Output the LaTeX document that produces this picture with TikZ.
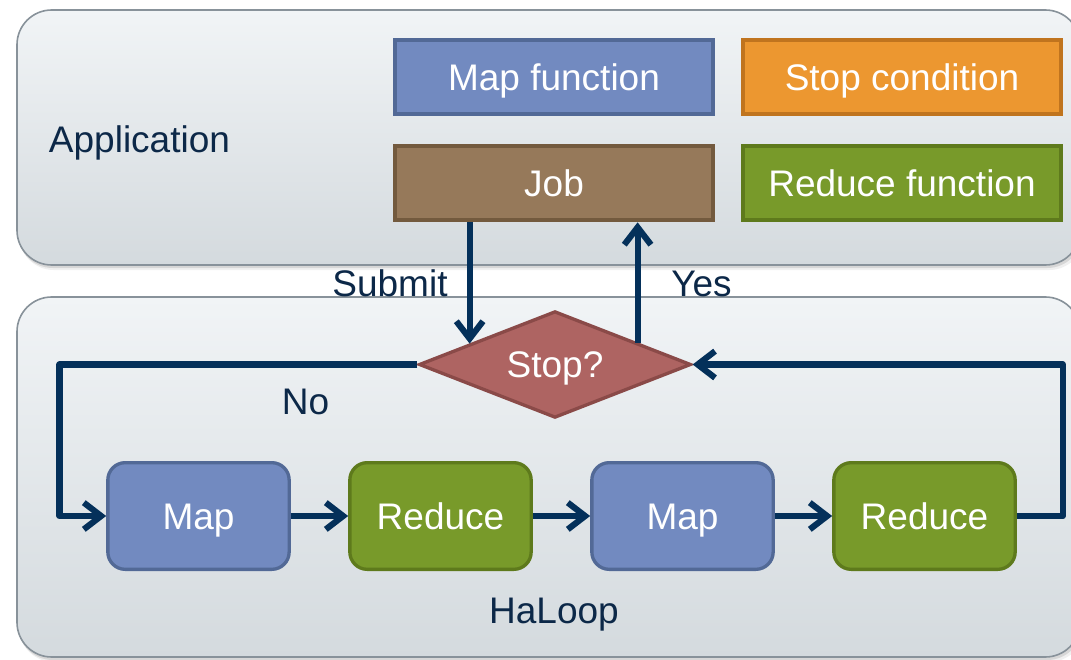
\documentclass[tikz,border=0pt]{standalone}
\usepackage{fontspec}
\setmainfont{Liberation Sans}
\usetikzlibrary{arrows.meta,shapes.geometric,calc}

\definecolor{inkNavy}{RGB}{12,40,72}
\definecolor{lineNavy}{RGB}{4,48,90}
\definecolor{panelTop}{RGB}{241,244,246}
\definecolor{panelBot}{RGB}{212,218,222}
\definecolor{panelEdge}{RGB}{136,146,154}
\definecolor{mapFill}{RGB}{114,138,192}
\definecolor{mapEdge}{RGB}{82,105,150}
\definecolor{reduceFill}{RGB}{120,154,42}
\definecolor{reduceEdge}{RGB}{94,122,28}
\definecolor{stopFill}{RGB}{236,151,48}
\definecolor{stopEdge}{RGB}{192,116,30}
\definecolor{jobFill}{RGB}{150,121,90}
\definecolor{jobEdge}{RGB}{115,90,62}
\definecolor{testFill}{RGB}{174,100,98}
\definecolor{testEdge}{RGB}{138,74,72}

\newcommand{\boxfont}{\fontsize{27.75}{33}\selectfont}

\tikzset{
  every node/.style={font=\boxfont, text height=20pt, text depth=0pt, inner sep=0pt},
  panel/.style={rounded corners=26pt, draw=panelEdge, line width=1.2pt,
    top color=panelTop, bottom color=panelBot},
  fnbox/.style={draw=#1Edge, fill=#1Fill, line width=3pt, text=white,
    minimum width=239pt, minimum height=56pt},
  stagebox/.style={draw=#1Edge, fill=#1Fill, line width=2.5pt, text=white,
    rounded corners=13pt, minimum width=136pt, minimum height=80pt},
  testbox/.style={diamond, draw=testEdge, fill=testFill, line width=2.5pt, text=white,
    aspect=2.5, minimum width=204pt, minimum height=80pt},
  note/.style={text=inkNavy},
  flow/.style={draw=lineNavy, line width=4.6pt, line join=round,
    -{Straight Barb[length=13pt,width=20pt]}}
}

\begin{document}
\begin{tikzpicture}[x=0.75pt,y=0.75pt,yscale=-1,xscale=1]
\useasboundingbox (0,0) rectangle (1071,660);
\clip (0,0) rectangle (1071,660);
\fill[white] (0,0) rectangle (1071,660);

%Shadows under the two panels
\fill[black,opacity=0.06,rounded corners=26pt] (19,13) rectangle (1084,270);
\fill[black,opacity=0.10,rounded corners=26pt] (18,12) rectangle (1082,268);
\fill[black,opacity=0.06,rounded corners=26pt] (19,300) rectangle (1084,662);
\fill[black,opacity=0.10,rounded corners=26pt] (18,299) rectangle (1082,660);

%Shape: Rounded Rectangle (application layer)
\path[panel] (17,10) rectangle (1080,265);
%Shape: Rounded Rectangle (runtime layer)
\path[panel] (17,297) rectangle (1080,657);

%Shape: Rectangle
\node[fnbox=map] (mapfn) at (554,77) {Map function};
%Shape: Rectangle
\node[fnbox=stop] (stopfn) at (902,77) {Stop condition};
%Shape: Rectangle
\node[fnbox=job] (job) at (554,183) {Job};
%Shape: Rectangle
\node[fnbox=reduce] (reducefn) at (902,183) {Reduce function};

%Shape: Diamond
\node[testbox] (test) at (555,364.5) {Stop?};

%Shape: Rounded Rectangle
\node[stagebox=map] (map1) at (198.5,516) {Map};
%Shape: Rounded Rectangle
\node[stagebox=reduce] (red1) at (440.5,516) {Reduce};
%Shape: Rounded Rectangle
\node[stagebox=map] (map2) at (682.5,516) {Map};
%Shape: Rounded Rectangle
\node[stagebox=reduce] (red2) at (924.5,516) {Reduce};

% Text Node
\node[note] (applbl) at (139.5,139.5) {Application};
% Text Node
\node[note] (sublbl) at (390,283.5) {Submit};
% Text Node
\node[note] (yeslbl) at (701.5,283.5) {Yes};
% Text Node
\node[note] (nolbl) at (305.5,401.5) {No};
% Text Node
\node[note] (looplbl) at (554,610.5) {HaLoop};

%Arrows
\coordinate (subIn) at ($(test.west)!0.38!(test.north)$);
\coordinate (yesOut) at ($(test.north)!0.6!(test.east)$);
\draw[flow] (job.south -| subIn) -- (subIn);
\draw[flow] (yesOut) -- (yesOut |- job.south);
\draw[flow] (map1) -- (red1);
\draw[flow] (red1) -- (map2);
\draw[flow] (map2) -- (red2);
\draw[flow] (red2.east) -- ([xshift=34.5pt]red2.east) |- (test.east);
\draw[flow] (test.west) -| ([xshift=-35pt]map1.west) -- (map1.west);

\end{tikzpicture}
\end{document}
